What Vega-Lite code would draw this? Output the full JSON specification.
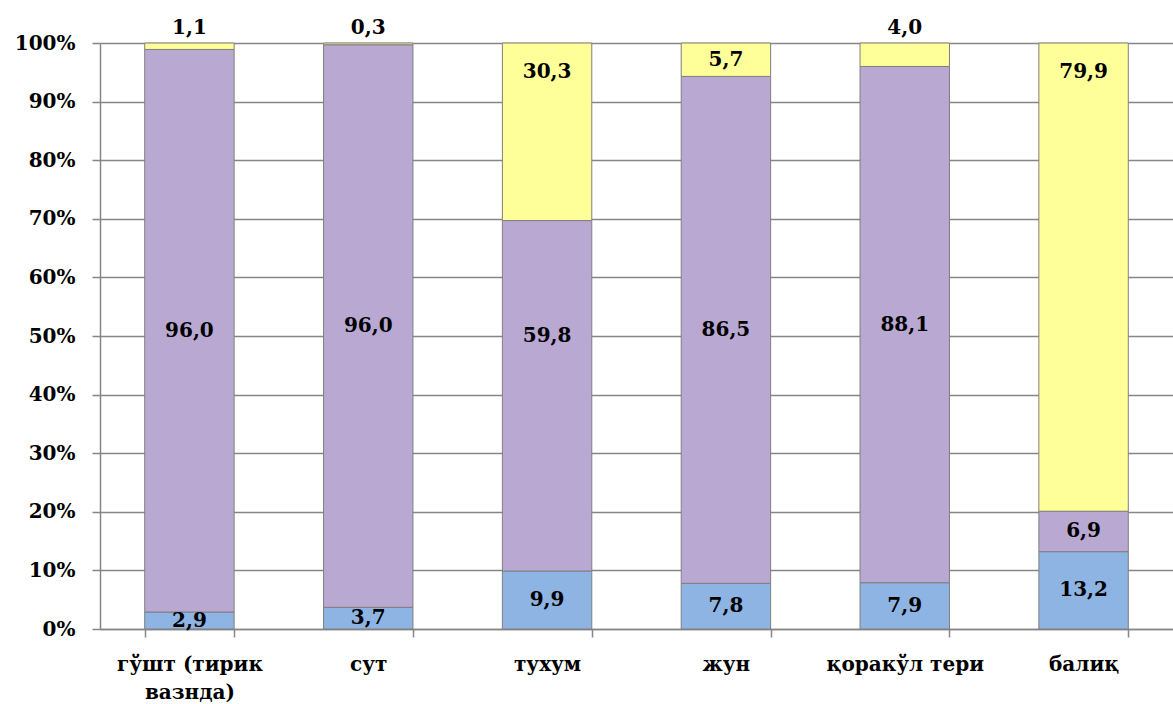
{
  "$schema": "https://vega.github.io/schema/vega-lite/v6.json",
  "width": 1073,
  "height": 586,
  "autosize": "none",
  "padding": {"left": 100, "top": 43, "right": 0, "bottom": 75},
  "background": "white",
  "config": {
    "view": {"stroke": null},
    "font": "DejaVu Serif",
    "locale": {"number": {"decimal": ",", "thousands": " ", "grouping": [3], "currency": ["", ""]}}
  },
  "data": {
    "values": [
      {"category": "гўшт (тирик вазнда)", "series": "bottom", "order": 1, "value": 2.9},
      {"category": "гўшт (тирик вазнда)", "series": "middle", "order": 2, "value": 96.0},
      {"category": "гўшт (тирик вазнда)", "series": "top", "order": 3, "value": 1.1},
      {"category": "сут", "series": "bottom", "order": 1, "value": 3.7},
      {"category": "сут", "series": "middle", "order": 2, "value": 96.0},
      {"category": "сут", "series": "top", "order": 3, "value": 0.3},
      {"category": "тухум", "series": "bottom", "order": 1, "value": 9.9},
      {"category": "тухум", "series": "middle", "order": 2, "value": 59.8},
      {"category": "тухум", "series": "top", "order": 3, "value": 30.3},
      {"category": "жун", "series": "bottom", "order": 1, "value": 7.8},
      {"category": "жун", "series": "middle", "order": 2, "value": 86.5},
      {"category": "жун", "series": "top", "order": 3, "value": 5.7},
      {"category": "қоракўл тери", "series": "bottom", "order": 1, "value": 7.9},
      {"category": "қоракўл тери", "series": "middle", "order": 2, "value": 88.1},
      {"category": "қоракўл тери", "series": "top", "order": 3, "value": 4.0},
      {"category": "балиқ", "series": "bottom", "order": 1, "value": 13.2},
      {"category": "балиқ", "series": "middle", "order": 2, "value": 6.9},
      {"category": "балиқ", "series": "top", "order": 3, "value": 79.9}
    ]
  },
  "transform": [
    {"stack": "value", "groupby": ["category"], "sort": [{"field": "order", "order": "ascending"}], "as": ["y0", "y1"], "offset": "normalize"},
    {"calculate": "(datum.y0 + datum.y1) / 2", "as": "mid"},
    {"calculate": "datum.series == 'top' ? (datum.value < 5 ? 1.025 : 1 - min(datum.value / 200, 0.05)) : (datum.series == 'middle' && datum.value > 50 ? max(datum.mid, 0.5) : datum.mid)", "as": "ymid"}
  ],
  "encoding": {
    "x": {
      "field": "category",
      "type": "nominal",
      "sort": ["гўшт (тирик вазнда)", "сут", "тухум", "жун", "қоракўл тери", "балиқ"],
      "scale": {"paddingInner": 0.5, "paddingOuter": 0.25},
      "title": null,
      "axis": {
        "labelAngle": 0,
        "labelFontSize": 20,
        "labelFontWeight": "bold",
        "labelColor": "black",
        "labelPadding": 17,
        "labelLineHeight": 28,
        "labelBaseline": "top",
        "labelExpr": "datum.value == 'гўшт (тирик вазнда)' ? ['гўшт (тирик', 'вазнда)'] : datum.value",
        "tickBand": "extent",
        "tickSize": 8,
        "tickColor": "#868686",
        "tickWidth": 1.5,
        "domainColor": "#868686",
        "domainWidth": 1.5,
        "grid": false
      }
    }
  },
  "layer": [
    {
      "mark": {"type": "bar", "stroke": "#7f7f7f", "strokeWidth": 1},
      "encoding": {
        "y": {
          "field": "y0",
          "type": "quantitative",
          "scale": {"domain": [0, 1], "nice": false},
          "title": null,
          "axis": {
            "format": ".0%",
            "values": [0, 0.1, 0.2, 0.3, 0.4, 0.5, 0.6, 0.7, 0.8, 0.9, 1.0],
            "labelFontSize": 20,
            "labelFontWeight": "bold",
            "labelColor": "black",
            "labelPadding": 17,
            "tickSize": 8,
            "tickColor": "#868686",
            "tickWidth": 1.5,
            "domainColor": "#868686",
            "domainWidth": 1.5,
            "gridColor": "#868686",
            "gridWidth": 1.5
          }
        },
        "y2": {"field": "y1"},
        "color": {
          "field": "series",
          "type": "nominal",
          "scale": {"domain": ["bottom", "middle", "top"], "range": ["#8eb4e3", "#b9a9d2", "#ffff99"]},
          "legend": null
        }
      }
    },
    {
      "mark": {"type": "text", "fontSize": 20, "fontWeight": "bold", "color": "black", "baseline": "middle"},
      "encoding": {
        "y": {"field": "ymid", "type": "quantitative"},
        "text": {"field": "value", "type": "quantitative", "format": ".1f"}
      }
    }
  ]
}
